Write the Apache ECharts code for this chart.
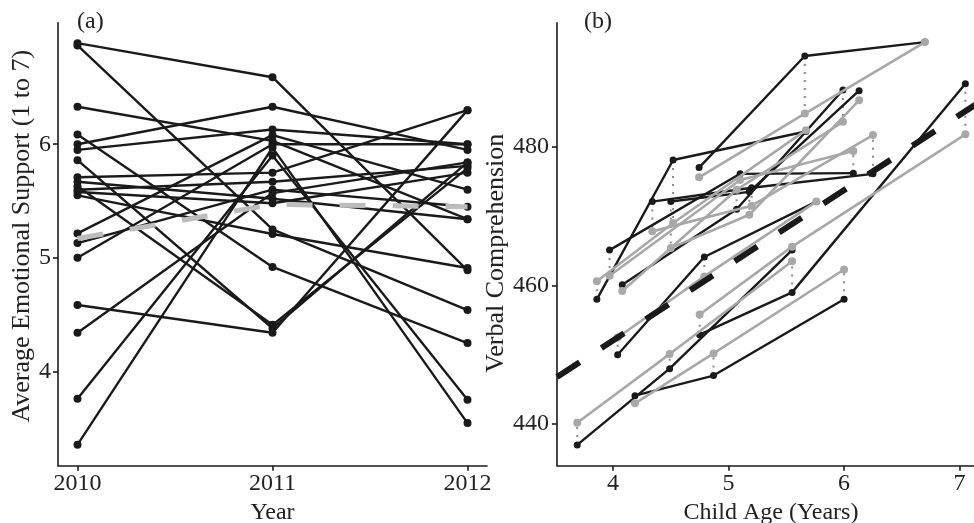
<!DOCTYPE html>
<html><head><meta charset="utf-8">
<script src="https://cdn.jsdelivr.net/npm/echarts@6/dist/echarts.min.js"></script>
<style>html,body{margin:0;padding:0;background:#fff}#c{width:974px;height:523px}</style>
</head><body><div id="c"></div>
<script>
// ---------- Panel (a): Average Emotional Support by year ----------
const years = [2010, 2011, 2012];
const support2010 = [6.89, 6.87, 6.33, 6.085, 6.00, 5.95, 5.86, 5.71, 5.67, 5.63, 5.60, 5.58, 5.55, 5.215, 5.13, 5.00, 4.585, 4.34, 3.76, 3.355];
const support2011 = [6.59, 5.25, 6.03, 4.92, 6.33, 6.13, 4.38, 5.75, 5.52, 4.41, 5.67, 5.48, 5.21, 6.08, 5.60, 6.00, 4.34, 5.57, 5.90, 5.97];
const support2012 = [4.89, 4.54, 5.34, 4.25, 5.95, 6.00, 5.84, 6.30, 5.34, 5.79, 5.81, 5.75, 4.91, 5.60, 5.45, 6.00, 6.30, 5.84, 3.75, 3.545];
const supportMean = [5.17, 5.47, 5.45];
const xTicksA = [2010, 2011, 2012];
const yTicksA = [4, 5, 6];

// ---------- Panel (b): Verbal Comprehension by child age ----------
const childAges = [
  [3.69, 4.49, 5.55], [4.19, 4.87, 6.00], [4.75, 5.55, 7.05], [4.04, 4.79, 5.76], [3.86, 4.52, 5.67],
  [3.97, 5.10, 6.08], [4.08, 5.07, 5.99], [4.34, 5.20, 6.25], [4.745, 5.66, 6.70], [4.50, 5.18, 6.13]
];
const verbalObserved = [
  [437.0, 448.0, 465.1], [444.1, 447.0, 458.0], [452.9, 459.0, 489.1], [450.0, 464.1, 472.1], [458.0, 478.1, 482.2],
  [465.1, 476.1, 476.2], [460.1, 471.0, 488.2], [472.1, 474.1, 476.1], [477.0, 493.1, 495.1], [472.1, 473.5, 488.1]
];
const verbalFitted = [
  [440.2, 450.1, 463.5], [443.0, 450.2, 462.3], [455.8, 465.6, 481.8], [452.5, 461.3, 472.1], [460.6, 469.0, 482.4],
  [461.4, 475.2, 479.4], [459.2, 473.8, 483.6], [467.8, 471.5, 481.7], [475.6, 484.8, 495.1], [465.4, 470.2, 486.7]
];
const trendAge = [3.515, 7.25];
const trendVal = [446.8, 487.3];
const xTicksB = [4, 5, 6, 7];
const yTicksB = [440, 460, 480];

const FONT = 'Liberation Serif';
const INK = '#1a1a1a';
const GRAY = '#a8a8a8';
const TXT = '#222';

function axisCommon(ticks, labelMargin, nameSize) {
  return {
    type: 'value',
    splitLine: {show: false},
    axisLine: {show: true, lineStyle: {color: INK, width: 1.6}},
    axisTick: {show: true, length: 5, lineStyle: {color: INK, width: 1.6}, customValues: ticks},
    axisLabel: {customValues: ticks, fontFamily: FONT, fontSize: 24, color: TXT, margin: labelMargin,
      formatter: v => String(v)},
    nameLocation: 'middle',
    nameTextStyle: {fontFamily: FONT, fontSize: nameSize, color: TXT}
  };
}

const series = [];
// panel a lines
for (let i = 0; i < support2010.length; i++) {
  const vals = [support2010[i], support2011[i], support2012[i]];
  series.push({
    type: 'line', xAxisIndex: 0, yAxisIndex: 0, z: 2,
    data: years.map((y, k) => [y, vals[k]]),
    symbol: 'circle', symbolSize: 8,
    lineStyle: {color: INK, width: 2.4}, itemStyle: {color: INK}
  });
}
series.push({
  type: 'line', xAxisIndex: 0, yAxisIndex: 0, z: 3,
  data: years.map((y, k) => [y, supportMean[k]]),
  symbol: 'none', lineStyle: {color: '#bdbdbd', width: 5, type: [26, 27]}
});

// panel b: dotted connectors
childAges.forEach((ages, c) => {
  ages.forEach((a, k) => {
    series.push({
      type: 'line', xAxisIndex: 1, yAxisIndex: 1, z: 1, symbol: 'none',
      data: [[a, verbalObserved[c][k]], [a, verbalFitted[c][k]]],
      lineStyle: {color: '#8a8a8a', width: 2, type: [2, 6]}
    });
  });
});
// observed (black)
childAges.forEach((ages, c) => {
  series.push({
    type: 'line', xAxisIndex: 1, yAxisIndex: 1, z: 2,
    data: ages.map((a, k) => [a, verbalObserved[c][k]]),
    symbol: 'circle', symbolSize: 7,
    lineStyle: {color: INK, width: 2.4}, itemStyle: {color: INK}
  });
});
// fitted (gray)
childAges.forEach((ages, c) => {
  series.push({
    type: 'line', xAxisIndex: 1, yAxisIndex: 1, z: 3,
    data: ages.map((a, k) => [a, verbalFitted[c][k]]),
    symbol: 'circle', symbolSize: 8,
    lineStyle: {color: GRAY, width: 2.6}, itemStyle: {color: GRAY}
  });
});
// overall trend (black dashed)
series.push({
  type: 'line', xAxisIndex: 1, yAxisIndex: 1, z: 4, symbol: 'none',
  data: trendAge.map((a, k) => [a, trendVal[k]]),
  lineStyle: {color: INK, width: 6, type: [27, 26]}
});

const yNameA = axisCommon(yTicksA, 7, 26);
yNameA.nameTextStyle.padding = [0, 0, 0, 16];
const yNameB = axisCommon(yTicksB, 8, 26);
yNameB.nameTextStyle.padding = [0, 18, 0, 0];

const option = {
  animation: false,
  backgroundColor: '#fff',
  grid: [
    {left: 58, top: 22.7, width: 429, height: 443, containLabel: false, outerBoundsMode: 'none'},
    {left: 557, top: 22.7, width: 428, height: 443, containLabel: false, outerBoundsMode: 'none'}
  ],
  xAxis: [
    Object.assign(axisCommon(xTicksA, 6, 24), {gridIndex: 0, min: 2009.9, max: 2012.1, name: 'Year', nameGap: 34}),
    Object.assign(axisCommon(xTicksB, 6, 24), {gridIndex: 1, min: 3.515, max: 7.22, name: 'Child Age (Years)', nameGap: 34})
  ],
  yAxis: [
    Object.assign(yNameA, {gridIndex: 0, min: 3.17, max: 7.07, name: 'Average Emotional Support (1 to 7)', nameGap: 22}),
    Object.assign(yNameB, {gridIndex: 1, min: 434.0, max: 497.9, name: 'Verbal Comprehension', nameGap: 45})
  ],
  graphic: [
    {type: 'text', left: 77, top: 10, style: {text: '(a)', fontFamily: FONT, fontSize: 24, fill: TXT}},
    {type: 'text', left: 584, top: 10, style: {text: '(b)', fontFamily: FONT, fontSize: 24, fill: TXT}}
  ],
  series: series
};
const chart = echarts.init(document.getElementById('c'), null, {renderer: 'canvas'});
chart.setOption(option);
</script></body></html>
